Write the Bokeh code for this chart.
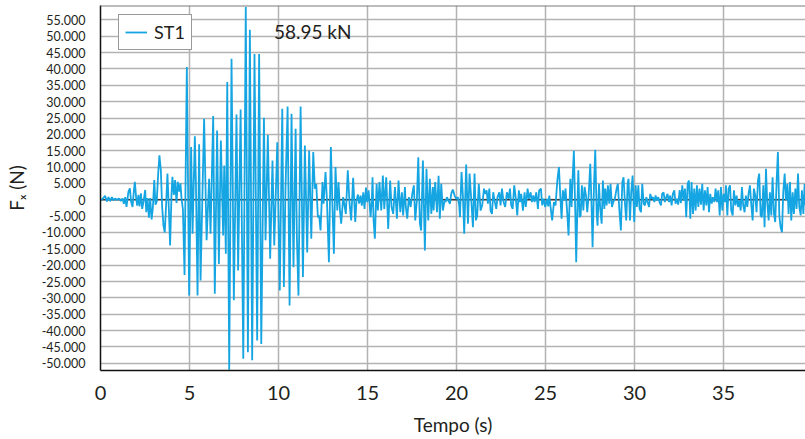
from bokeh.plotting import figure
from bokeh.models import Range1d, FixedTicker, Span, Label, ColumnDataSource
from bokeh.embed import file_html
from bokeh.resources import INLINE

# ---------------- data (time in s, force in kN) ----------------
t_a = [0.00, 0.07, 0.26, 0.36, 0.45, 0.54, 0.64, 0.73, 0.82, 0.92,
       1.05, 1.14, 1.24, 1.31, 1.39, 1.46, 1.57, 1.65, 1.72, 1.80,
       1.87, 1.93, 2.00, 2.06, 2.13, 2.19, 2.27, 2.34, 2.42, 2.51,
       2.57, 2.64, 2.72, 2.79, 2.87, 2.94, 3.02, 3.09, 3.16, 3.24,
       3.31, 3.39, 3.46, 3.54, 3.61, 3.69, 3.76, 3.84, 3.91, 3.99,
       4.04, 4.12, 4.19, 4.27, 4.34, 4.42, 4.49, 4.55, 4.63, 4.72]
f_a = [0.0, 0.0, 1.2, -0.5, 0.8, -0.4, 0.8, -0.2, 0.4, 0.0,
       0.4, -0.4, 0.4, -1.2, 0.8, -2.2, 2.5, 3.5, -0.6, -2.2,
       2.5, 5.5, 0.8, -1.8, 1.5, -2.0, 2.0, -2.8, -0.5, 3.0,
       -3.8, 0.5, -5.5, 0.5, -6.0, -2.5, 6.0, -1.5, -0.5, 8.0,
       13.6, 9.0, -2.0, -8.0, -10.0, -1.0, 8.0, -3.0, -14.0, 2.0,
       7.0, 1.5, 6.0, -1.0, 5.5, 2.5, 5.0, 0.5, -3.0, -23.0]

t_b = [4.85, 4.98, 5.09, 5.17, 5.30, 5.36, 5.45, 5.54, 5.62, 5.82,
       5.96, 6.10, 6.18, 6.33, 6.42, 6.55, 6.65, 6.76, 6.89, 6.95,
       7.04, 7.12, 7.23, 7.36, 7.49, 7.64, 7.73, 7.87, 8.02, 8.16,
       8.28, 8.39, 8.52, 8.65, 8.80, 8.91, 9.03, 9.18, 9.27, 9.40,
       9.53, 9.66, 9.76, 9.93]
f_b = [40.6, -29.3, 16.1, -10.4, 19.4, 4.9, -29.3, 17.0, -24.7, 24.8,
       -12.4, 6.4, -10.4, 25.6, -28.7, 21.2, -19.6, 18.1, -10.9, 10.5,
       -16.5, 36.0, -52.0, 43.1, -30.7, 26.1, -21.6, 27.6, -48.6, 58.95,
       -46.6, 52.0, -49.1, 44.6, -43.0, 44.6, -44.1, 25.1, -12.4, 19.8,
       -18.0, 12.0, -14.0, 17.6]

t_c = [10.07, 10.21, 10.30, 10.39, 10.51, 10.62, 10.73, 10.84, 10.96, 11.03,
       11.12, 11.24, 11.37, 11.48, 11.61, 11.72, 11.84, 11.95, 12.04, 12.12,
       12.21, 12.28, 12.36, 12.47, 12.53, 12.64, 12.72, 12.83, 12.94, 13.03,
       13.11, 13.20, 13.30, 13.37, 13.45, 13.52, 13.63, 13.69, 13.78, 13.89,
       13.99, 14.08, 14.19, 14.31, 14.38, 14.46, 14.53, 14.61, 14.68, 14.76,
       14.83, 14.91, 14.98, 15.06, 15.17, 15.24]
f_c = [-27.7, 27.8, -26.7, 3.1, 28.5, -32.3, 26.3, -20.6, 21.7, -11.4,
       -29.3, 28.5, -23.6, 16.6, -16.1, 15.0, -11.9, 14.6, 3.4, 4.9,
       -5.3, -4.8, -9.4, 5.4, -1.2, 8.5, -0.2, -19.1, 16.1, -2.2,
       -16.5, 10.0, -3.3, 5.4, -3.3, -7.3, 0.8, -1.2, -4.3, 9.0,
       -1.2, -6.3, 6.7, -6.8, -0.2, 1.6, -1.2, 1.3, -1.8, 2.3,
       -2.8, 3.7, -0.7, 2.9, -5.3, -0.2]

t_d = [15.28, 15.34, 15.41, 15.51, 15.58, 15.67, 15.77, 15.86, 15.94, 16.05,
       16.16, 16.27, 16.35, 16.44, 16.54, 16.65, 16.74, 16.84, 16.93, 17.00,
       17.10, 17.15, 17.23, 17.32, 17.42, 17.51, 17.60, 17.68, 17.77, 17.85,
       17.94, 18.01, 18.11, 18.22, 18.31, 18.41, 18.50, 18.58, 18.67, 18.71,
       18.80, 18.90, 18.99, 19.06, 19.14, 19.23, 19.33, 19.38, 19.46, 19.53,
       19.63, 19.70, 19.79, 19.89, 19.98, 20.07, 20.15]
f_d = [6.9, -6.3, -11.9, 4.9, -3.3, 5.4, -3.3, 7.4, -2.8, 6.9,
       -8.9, 5.9, -2.2, -4.3, 3.9, -5.8, 5.9, -3.8, 2.3, -4.8,
       3.9, -2.2, -5.8, 0.8, -2.2, 1.8, 4.4, -6.3, -0.2, 13.0,
       -7.3, -9.4, 12.0, -15.5, 9.5, -6.3, 6.4, -4.3, 3.9, -3.3,
       5.4, -3.8, 7.3, -5.8, 4.9, -3.3, -0.2, -0.7, 0.8, -0.2,
       -1.2, 1.8, 3.1, 1.3, 0.3, 0.8, -1.7]

t_e = [20.19, 20.28, 20.36, 20.43, 20.54, 20.64, 20.73, 20.82, 20.92, 21.01,
       21.09, 21.16, 21.25, 21.35, 21.44, 21.54, 21.61, 21.69, 21.76, 21.84,
       21.91, 21.99, 22.06, 22.13, 22.23, 22.30, 22.40, 22.47, 22.55, 22.64,
       22.73, 22.83, 22.92, 23.00, 23.07, 23.15, 23.24, 23.33, 23.41, 23.50,
       23.56, 23.63, 23.73, 23.82, 23.89, 23.99, 24.06, 24.16, 24.23, 24.31,
       24.38, 24.48, 24.57, 24.64, 24.74, 24.81, 24.89, 24.98, 25.08, 25.15]
f_e = [-5.3, 8.5, 0.8, -10.4, 10.8, -7.3, 8.0, 0.5, -8.4, 8.0,
       -6.3, -4.8, 4.9, -3.3, -1.7, 3.4, 1.8, 2.9, -1.2, 3.4,
       -3.3, -4.3, 2.3, -0.2, -2.8, 0.8, 2.3, -1.7, 3.4, -0.7,
       -2.2, 2.3, 0.3, 3.4, -1.7, -2.8, 4.4, 0.3, -4.8, 2.9,
       -0.7, 1.8, -3.3, 2.3, -2.2, 3.4, 0.3, 2.3, -0.7, 1.3,
       -0.7, 2.3, -2.8, 2.9, 3.4, -1.7, 0.3, -2.2, 0.3, -2.0]

t_f = [25.21, 25.28, 25.37, 25.47, 25.56, 25.66, 25.75, 25.84, 25.90, 25.97,
       26.05, 26.12, 26.22, 26.29, 26.39, 26.46, 26.52, 26.59, 26.67, 26.72,
       26.80, 26.84, 26.91, 26.97, 27.04, 27.12, 27.19, 27.27, 27.34, 27.42,
       27.51, 27.58, 27.64, 27.72, 27.79, 27.87, 27.92, 28.00, 28.07, 28.15,
       28.22, 28.30, 28.35, 28.43, 28.50, 28.58, 28.65, 28.73, 28.80, 28.89,
       28.99, 29.06, 29.14, 29.23, 29.31, 29.38, 29.46, 29.53, 29.61, 29.66,
       29.74, 29.81, 29.89, 29.98]
f_f = [1.3, -2.2, -6.3, -0.7, -1.7, 5.9, 10.0, -0.2, -5.8, 2.9,
       -0.2, 3.4, -4.3, -10.9, 6.4, -2.2, 6.9, 15.0, -4.3, -19.1,
       0.8, 9.0, -5.3, -4.8, 4.4, -3.3, 3.9, 1.3, -3.8, 1.3,
       11.0, -1.2, -14.5, 4.4, 15.3, -4.3, -7.9, 4.9, -2.8, -7.3,
       5.9, -2.8, 3.4, -1.7, 4.4, -1.2, 4.9, -2.2, -0.7, 0.3,
       3.4, 4.9, -2.8, -9.4, 5.4, 6.9, -1.2, -6.3, 4.9, 6.4,
       -6.3, 2.3, 7.4, -6.8]

t_g = [30.06, 30.13, 30.21, 30.28, 30.36, 30.43, 30.51, 30.58, 30.66, 30.73,
       30.81, 30.88, 30.96, 31.03, 31.11, 31.18, 31.25, 31.33, 31.40, 31.48,
       31.55, 31.63, 31.70, 31.78, 31.85, 31.93, 32.00, 32.08, 32.15, 32.23,
       32.30, 32.38, 32.45, 32.53, 32.60, 32.68, 32.75, 32.83, 32.90, 32.98,
       33.05, 33.13, 33.20, 33.28, 33.35, 33.43, 33.50, 33.58, 33.65, 33.73,
       33.80, 33.88, 33.95, 34.03, 34.10, 34.18, 34.25, 34.33, 34.40, 34.48,
       34.55, 34.63, 34.70, 34.78, 34.85, 34.93, 35.00, 35.08]
f_g = [4.4, -2.2, 4.4, -2.8, -3.8, 4.9, -1.2, -1.7, 0.8, -0.7,
       -2.2, 1.8, 0.3, 0.8, -0.7, 1.3, -0.2, 0.8, -0.7, -1.7,
       1.8, 2.3, -0.7, 0.8, 1.8, -0.7, 1.3, -1.7, 1.8, 2.9,
       -1.2, 0.3, -1.5, 3.0, -1.0, 4.4, -0.2, 3.4, -5.3, 4.9,
       5.9, -5.8, 5.4, -4.3, 3.4, -3.3, 4.4, -2.2, 3.4, -1.5,
       4.9, -3.3, 2.9, -1.7, 3.9, -3.8, 1.8, -1.2, 0.8, -0.7,
       3.4, -0.7, 2.9, -4.8, 3.9, -3.3, 1.8, -0.7]

t_h = [35.13, 35.21, 35.28, 35.36, 35.43, 35.51, 35.58, 35.66, 35.73, 35.81,
       35.88, 35.96, 36.03, 36.10, 36.18, 36.25, 36.33, 36.40, 36.48, 36.55,
       36.63, 36.70, 36.78, 36.85, 36.93, 37.00, 37.08, 37.15, 37.23, 37.30,
       37.38, 37.45, 37.53, 37.60, 37.68, 37.75, 37.83, 37.90, 37.98, 38.05,
       38.13, 38.20, 38.28, 38.35, 38.43, 38.50, 38.58, 38.65, 38.73, 38.80,
       38.88, 38.95, 39.03, 39.10, 39.18, 39.25, 39.33, 39.40, 39.48, 39.55,
       39.61]
f_h = [4.4, -4.8, 3.4, 4.4, -3.3, -4.8, 2.9, -1.7, 1.3, -2.2,
       -0.2, -3.3, 3.9, -1.7, -3.8, 1.3, -2.2, 1.8, 4.4, -1.2,
       -6.3, 3.4, 1.3, -3.8, 5.9, 8.0, -4.8, -5.3, 4.4, -8.4,
       9.5, -0.7, -6.3, 2.3, -4.8, 6.9, -4.3, -6.8, 5.9, 14.6,
       -4.8, -8.4, -9.9, 2.3, 8.0, -0.2, 4.9, -4.3, 5.4, -6.3,
       2.3, -4.3, 3.4, -2.8, 8.0, -2.2, -4.8, 2.9, -4.3, 4.9,
       -1.7]

series_name = "ST1"
peak_text = "58.95 kN"
peak_time = 9.74        # where the annotation text starts (s)
peak_text_y = 51500     # vertical position of annotation (N)
x_title = "Tempo (s)"
y_title = "F\u2093 (N)"

x_tick_values = [0, 5, 10, 15, 20, 25, 30, 35]
x_tick_labels = ["0", "5", "10", "15", "20", "25", "30", "35"]
y_tick_values = [-50000, -45000, -40000, -35000, -30000, -25000, -20000, -15000,
                 -10000, -5000, 0, 5000, 10000, 15000, 20000, 25000, 30000,
                 35000, 40000, 45000, 50000, 55000]
y_tick_labels = ["-50.000", "-45.000", "-40.000", "-35.000", "-30.000", "-25.000",
                 "-20.000", "-15.000", "-10.000", "-5.000", "0", "5.000", "10.000",
                 "15.000", "20.000", "25.000", "30.000", "35.000", "40.000",
                 "45.000", "50.000", "55.000"]

x_start, x_end = 0, 39.6
y_start, y_end = -52200, 59400

# ---------------- assemble ----------------
times = t_a + t_b + t_c + t_d + t_e + t_f + t_g + t_h
forces_kN = f_a + f_b + f_c + f_d + f_e + f_f + f_g + f_h
assert len(times) == len(forces_kN)
forces_N = [v * 1000 for v in forces_kN]
src = ColumnDataSource(data=dict(t=times, f=forces_N))

LINE_COLOR = "#15a5e2"
TEXT_COLOR = "#231f20"
FONT = "Lato"

p = figure(width=805, height=439, output_backend="svg", toolbar_location=None,
           x_range=Range1d(x_start, x_end), y_range=Range1d(y_start, y_end),
           min_border_left=100, min_border_right=0, min_border_top=5,
           min_border_bottom=69)
p.background_fill_color = "white"
p.border_fill_color = "white"
p.outline_line_color = None

# grids
for g in (p.xgrid, p.ygrid):
    g.grid_line_color = "#b3b3b3"
    g.grid_line_width = 1.5

# zero line and top border
p.add_layout(Span(location=0, dimension="width", line_color="#3c3c3c",
                  line_width=1.5, level="underlay"))
p.add_layout(Span(location=y_end, dimension="width", line_color="#7a7a7a",
                  line_width=2))

p.line("t", "f", source=src, line_color=LINE_COLOR, line_width=1.8,
       legend_label=series_name)

# axes
p.xaxis.ticker = FixedTicker(ticks=x_tick_values)
p.xaxis.major_label_overrides = {v: s for v, s in zip(x_tick_values, x_tick_labels)}
p.yaxis.ticker = FixedTicker(ticks=y_tick_values)
p.yaxis.major_label_overrides = {v: s for v, s in zip(y_tick_values, y_tick_labels)}
for ax in (p.xaxis[0], p.yaxis[0]):
    ax.axis_line_color = "#111111"
    ax.axis_line_width = 1.5
    ax.major_tick_out = 0
    ax.major_tick_in = 0
    ax.minor_tick_out = 0
    ax.minor_tick_in = 0
    ax.major_label_text_font = FONT
    ax.major_label_text_color = TEXT_COLOR
    ax.axis_label_text_font = FONT
    ax.axis_label_text_font_style = "normal"
    ax.axis_label_text_color = TEXT_COLOR
    ax.axis_label_text_font_size = "19px"

p.xaxis.major_label_text_font_size = "20px"
p.xaxis.major_label_standoff = 15
p.xaxis.axis_label = x_title
p.xaxis.axis_label_standoff = 10

p.yaxis.major_label_text_font_size = "12.5px"
p.yaxis.major_label_standoff = 15
p.yaxis.axis_label = y_title
p.yaxis.axis_label_standoff = 11

# legend
leg = p.legend[0]
leg.location = (18, 320)
leg.margin = 0
leg.padding = 6
leg.spacing = 0
leg.glyph_width = 22
leg.glyph_height = 22
leg.label_height = 22
leg.label_standoff = 7
leg.label_text_font = FONT
leg.label_text_font_size = "18px"
leg.label_text_color = TEXT_COLOR
leg.border_line_color = "#333333"
leg.border_line_width = 1.5
leg.background_fill_color = "white"
leg.background_fill_alpha = 1.0

# peak annotation
p.add_layout(Label(x=peak_time, y=peak_text_y, text=peak_text, text_font=FONT,
                   text_font_size="19px", text_baseline="middle",
                   text_color=TEXT_COLOR))

open("out.html", "w").write(file_html(p, INLINE))
